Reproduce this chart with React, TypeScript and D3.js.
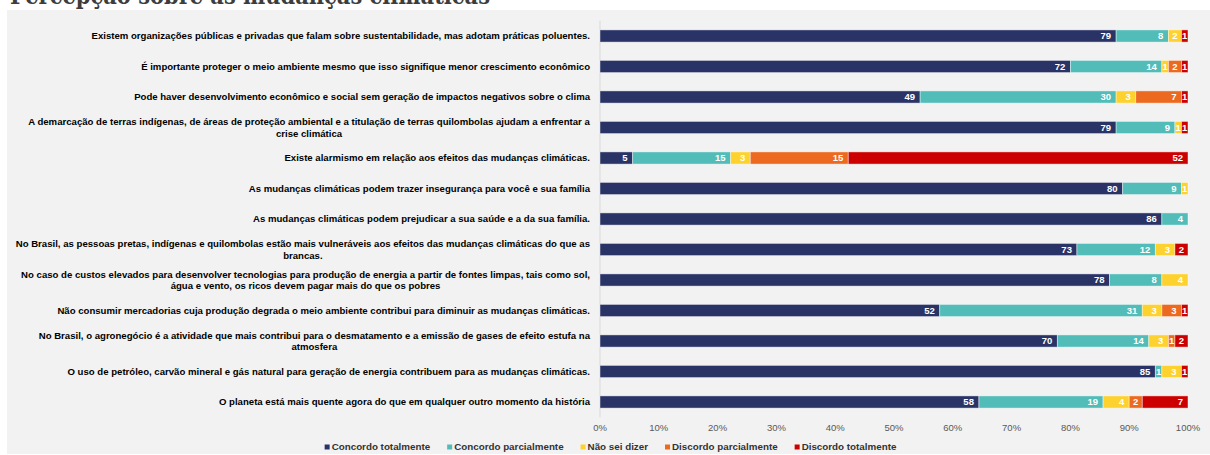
import React from "react";
import * as d3 from "d3";

const title = "Percepção sobre as mudanças climáticas";

const categories = [
  "Existem organizações públicas e privadas que falam sobre sustentabilidade, mas adotam práticas poluentes.",
  "É importante proteger o meio ambiente mesmo que isso signifique menor crescimento econômico",
  "Pode haver desenvolvimento econômico e social sem geração de impactos negativos sobre o clima",
  "A demarcação de terras indígenas, de áreas de proteção ambiental e a titulação de terras quilombolas ajudam a enfrentar a\ncrise climática",
  "Existe alarmismo em relação aos efeitos das mudanças climáticas.",
  "As mudanças climáticas podem trazer insegurança para você e sua família",
  "As mudanças climáticas podem prejudicar a sua saúde e a da sua família.",
  "No Brasil, as pessoas pretas, indígenas e quilombolas estão mais vulneráveis aos efeitos das mudanças climáticas do que as\nbrancas.",
  "No caso de custos elevados para desenvolver tecnologias para produção de energia a partir de fontes limpas, tais como sol,\nágua e vento, os ricos devem pagar mais do que os pobres",
  "Não consumir mercadorias cuja produção degrada o meio ambiente contribui para diminuir as mudanças climáticas.",
  "No Brasil, o agronegócio é a atividade que mais contribui para o desmatamento e a emissão de gases de efeito estufa na\natmosfera",
  "O uso de petróleo, carvão mineral e gás natural para geração de energia contribuem para as mudanças climáticas.",
  "O planeta está mais quente agora do que em qualquer outro momento da história",
];

const seriesNames = [
  "Concordo totalmente",
  "Concordo parcialmente",
  "Não sei dizer",
  "Discordo parcialmente",
  "Discordo totalmente",
];

const concordoTotalmente = [79, 72, 49, 79, 5, 80, 86, 73, 78, 52, 70, 85, 58];
const concordoParcialmente = [8, 14, 30, 9, 15, 9, 4, 12, 8, 31, 14, 1, 19];
const naoSeiDizer = [2, 1, 3, 1, 3, 1, 0, 3, 4, 3, 3, 3, 4];
const discordoParcialmente = [0, 2, 7, 0, 15, 0, 0, 0, 0, 3, 1, 0, 2];
const discordoTotalmente = [1, 1, 1, 1, 52, 0, 0, 2, 0, 1, 2, 1, 7];

const tickValues = [0, 0.1, 0.2, 0.3, 0.4, 0.5, 0.6, 0.7, 0.8, 0.9, 1];

const colors = ["#2a3366", "#52bcb8", "#fdd22f", "#ec6a1f", "#cc0000"];

const W = 1210;
const H = 455;
const FONT = "'Liberation Sans', Arial, sans-serif";

let _ctx: CanvasRenderingContext2D | null = null;
function measure(text: string, font: string): number {
  if (!_ctx) {
    const c = document.createElement("canvas");
    _ctx = c.getContext("2d");
  }
  if (!_ctx) return text.length * 5;
  _ctx.font = font;
  return _ctx.measureText(text).width;
}

export default function App() {
  const seriesValues = [
    concordoTotalmente,
    concordoParcialmente,
    naoSeiDizer,
    discordoParcialmente,
    discordoTotalmente,
  ];
  const rows = categories.map((c, i) => {
    const r: any = { cat: c };
    seriesNames.forEach((s, k) => (r[s] = seriesValues[k][i]));
    return r;
  });
  const stack = d3
    .stack<any>()
    .keys(seriesNames)
    .offset(d3.stackOffsetExpand)(rows);

  const x = d3.scaleLinear().domain([0, 1]).range([600, 1188]);
  const y = d3
    .scaleBand()
    .domain(categories)
    .range([20.75, 417.25])
    .paddingInner(0.6)
    .paddingOuter(0.3);

  const LABEL_FS = 9.6;
  const LEGEND_FS = 9.8;
  const labelFont = `bold ${LABEL_FS}px ${FONT}`;
  const valueFont = `bold 9.5px ${FONT}`;
  const legendFont = `bold ${LEGEND_FS}px ${FONT}`;

  // legend layout
  const sq = 5;
  const gapSq = 2;
  const gapItem = 17;
  const itemWidths = seriesNames.map((s) => sq + gapSq + measure(s, legendFont));
  const totalLegend = d3.sum(itemWidths) + gapItem * (seriesNames.length - 1);
  let lx = 610.5 - totalLegend / 2;
  const legendItems = seriesNames.map((s, k) => {
    const pos = lx;
    lx += itemWidths[k] + gapItem;
    return { name: s, x: pos, color: colors[k] };
  });

  return (
    <svg
      width={W}
      height={H}
      style={{ position: "absolute", left: 0, top: 0, display: "block" }}
    >
      <rect x={0} y={0} width={W} height={H} fill="#ffffff" />
      <text
        x={10}
        y={4}
        fontFamily="'DejaVu Serif', serif"
        fontWeight="bold"
        fontSize={24}
        fill="#3d3d3d"
        textLength={480}
        lengthAdjust="spacingAndGlyphs"
      >
        {title}
      </text>
      <rect x={7} y={10} width={W - 7} height={444} fill="#f2f2f2" />

      {/* category labels */}
      {categories.map((c) => {
        const lines = c.split("\n");
        const cy = (y(c) as number) + y.bandwidth() / 2;
        if (lines.length === 1) {
          return (
            <text
              key={c}
              x={590}
              y={cy}
              dy="0.35em"
              textAnchor="end"
              fontFamily={FONT}
              fontWeight="bold"
              fontSize={LABEL_FS}
              fill="#000"
            >
              {c}
            </text>
          );
        }
        const widths = lines.map((l) => measure(l, labelFont));
        const maxW = Math.max(...widths);
        const center = 590 - maxW / 2;
        return (
          <g key={c}>
            {lines.map((l, j) => (
              <text
                key={j}
                x={center}
                y={cy + (j - (lines.length - 1) / 2) * 11.5}
                dy="0.35em"
                textAnchor="middle"
                fontFamily={FONT}
                fontWeight="bold"
                fontSize={LABEL_FS}
                fill="#000"
              >
                {l}
              </text>
            ))}
          </g>
        );
      })}

      {/* axis line */}
      <line
        x1={x(0)}
        x2={x(0)}
        y1={y.range()[0]}
        y2={y.range()[1]}
        stroke="#d9d9d9"
        strokeWidth={1}
      />

      {/* bars */}
      {stack.map((layer, k) => (
        <g key={layer.key}>
          {layer.map((d, i) => {
            const raw = seriesValues[k][i];
            if (!raw) return null;
            const x0 = x(d[0]);
            const x1 = x(d[1]);
            const yy = y(categories[i]) as number;
            return (
              <rect
                key={i}
                x={x0}
                y={yy}
                width={x1 - x0}
                height={y.bandwidth()}
                fill={colors[k]}
                stroke="#ffffff"
                strokeOpacity={0.55}
                strokeWidth={0.8}
              />
            );
          })}
        </g>
      ))}

      {/* value labels */}
      {stack.map((layer, k) => (
        <g key={"l" + layer.key}>
          {layer.map((d, i) => {
            const raw = seriesValues[k][i];
            if (!raw) return null;
            const x0 = x(d[0]);
            const x1 = x(d[1]);
            const tw = measure(String(raw), valueFont);
            const cy = (y(categories[i]) as number) + y.bandwidth() / 2;
            const inside = x1 - x0 >= tw + 9;
            return (
              <text
                key={i}
                x={inside ? x1 - 5 : (x0 + x1) / 2}
                y={cy}
                dy="0.35em"
                textAnchor={inside ? "end" : "middle"}
                fontFamily={FONT}
                fontWeight="bold"
                fontSize={9.5}
                fill="#ffffff"
              >
                {raw}
              </text>
            );
          })}
        </g>
      ))}

      {/* x ticks */}
      {tickValues.map((t) => (
        <text
          key={t}
          x={x(t)}
          y={428}
          dy="0.35em"
          textAnchor="middle"
          fontFamily={FONT}
          fontSize={9.5}
          fill="#595959"
        >
          {d3.format(".0%")(t)}
        </text>
      ))}

      {/* legend */}
      {legendItems.map((it) => (
        <g key={it.name}>
          <rect x={it.x} y={447 - sq / 2} width={sq} height={sq} fill={it.color} />
          <text
            x={it.x + sq + gapSq}
            y={447}
            dy="0.35em"
            fontFamily={FONT}
            fontWeight="bold"
            fontSize={LEGEND_FS}
            fill="#333333"
          >
            {it.name}
          </text>
        </g>
      ))}
    </svg>
  );
}
